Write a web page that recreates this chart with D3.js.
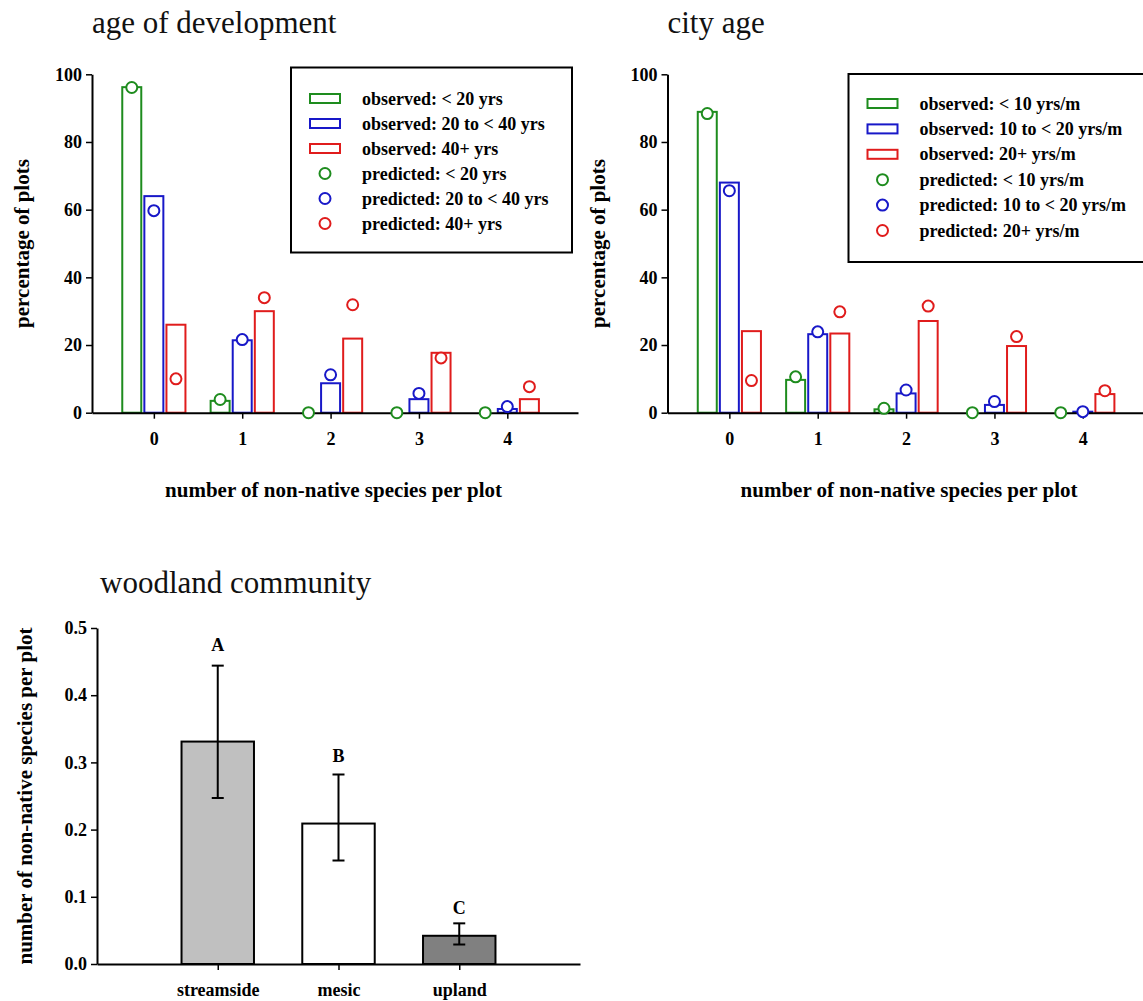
<!DOCTYPE html>
<html>
<head>
<meta charset="utf-8">
<script src="https://cdn.jsdelivr.net/npm/d3@7"></script>
<style>
  body { margin: 0; background: #fff; }
  svg { display: block; }
  text { font-family: "Liberation Serif", "Times New Roman", serif; }
  .axis text { font-size: 18px; font-weight: bold; fill: #000; }
  .axis .domain { stroke: #000; stroke-width: 2px; }
  .axis .tick line { stroke: #000; stroke-width: 1.5px; }
  .title { font-size: 31px; fill: #111; }
  .label { font-size: 21px; font-weight: bold; fill: #000; }
  .legend text { font-size: 18px; font-weight: bold; fill: #000; }
</style>
</head>
<body>
<div id="chart"></div>
<script>
// number of non-native species per plot
var counts = [0, 1, 2, 3, 4];
var pctTicks = [0, 20, 40, 60, 80, 100];
var groupColors = ["#1e8c1e", "#1818c8", "#e01c1c"];

// age of development (percent of plots)
var devGroups = ["< 20 yrs", "20 to < 40 yrs", "40+ yrs"];
var devObserved = [
  [96.2, 3.5, 0, 0, 0],
  [64.0, 21.4, 8.7, 4.0, 1.1],
  [26.0, 30.0, 21.9, 17.7, 4.0]
];
var devPredicted = [
  [96.1, 3.9, 0, 0, 0],
  [59.7, 21.6, 11.2, 5.7, 1.8],
  [10.0, 34.0, 31.9, 16.2, 7.7]
];

// city age (percent of plots)
var cityGroups = ["< 10 yrs/m", "10 to < 20 yrs/m", "20+ yrs/m"];
var cityObserved = [
  [88.9, 9.7, 1.0, 0, 0],
  [68.0, 23.2, 5.7, 2.3, 0.3],
  [24.1, 23.4, 27.1, 19.7, 5.5]
];
var cityPredicted = [
  [88.4, 10.6, 1.3, 0, 0],
  [65.6, 23.9, 6.7, 3.3, 0.3],
  [9.5, 29.8, 31.5, 22.5, 6.5]
];

// woodland community (mean number of non-native species per plot)
var communities = ["streamside", "mesic", "upland"];
var communityMeans = [0.331, 0.209, 0.042];
var communityLow = [0.247, 0.154, 0.029];
var communityHigh = [0.444, 0.282, 0.0605];
var communityLetters = ["A", "B", "C"];
var communityLetterY = [0.475, 0.309, 0.083];
var communityFills = ["#c0c0c0", "#ffffff", "#808080"];
var meanTicks = [0, 0.1, 0.2, 0.3, 0.4, 0.5];

var svg = d3.select("#chart").append("svg")
  .attr("width", 1143)
  .attr("height", 1001);

function distributionPlot(opts) {
  var x = d3.scaleLinear().domain([-0.7, 4.8])
    .range([opts.left, opts.left + 486]);
  var y = d3.scaleLinear().domain([0, 100])
    .range([412.7, 74.3]);
  var xAxis = d3.axisBottom(x)
    .tickValues(counts)
    .tickFormat(d3.format("d"))
    .tickSizeInner(6).tickSizeOuter(0).tickPadding(14);
  var yAxis = d3.axisLeft(y)
    .tickValues(pctTicks)
    .tickSizeInner(6).tickSizeOuter(0).tickPadding(4);
  var offset = 0.25, barW = x(0.215) - x(0);

  var g = svg.append("g");

  g.append("text")
    .attr("class", "title")
    .attr("x", opts.left)
    .attr("y", 33)
    .text(opts.title);

  // observed bars
  opts.observed.forEach(function(vals, gi) {
    g.selectAll(".bar" + gi)
      .data(vals)
      .enter().append("rect")
        .attr("class", "bar" + gi)
        .attr("x", function(d, i) { return x(counts[i] + (gi - 1) * offset) - barW / 2; })
        .attr("y", function(d) { return y(d); })
        .attr("width", barW)
        .attr("height", function(d) { return y(0) - y(d); })
        .attr("fill", "none")
        .attr("stroke", groupColors[gi])
        .attr("stroke-width", 2);
  });

  g.append("g")
    .attr("class", "axis")
    .attr("transform", "translate(0," + y(0) + ")")
    .call(xAxis);
  g.append("g")
    .attr("class", "axis")
    .attr("transform", "translate(" + x(-0.7) + ",0)")
    .call(yAxis);

  // predicted points
  opts.predicted.forEach(function(vals, gi) {
    g.selectAll(".pt" + gi)
      .data(vals)
      .enter().append("circle")
        .attr("class", "pt" + gi)
        .attr("cx", function(d, i) { return x(counts[i] + (gi - 1) * offset); })
        .attr("cy", function(d) { return y(d); })
        .attr("r", 5.5)
        .attr("fill", "#fff")
        .attr("stroke", groupColors[gi])
        .attr("stroke-width", 2);
  });

  // axis labels
  g.append("text")
    .attr("class", "label")
    .attr("x", x(2) + 3)
    .attr("y", 497)
    .style("text-anchor", "middle")
    .text("number of non-native species per plot");
  g.append("text")
    .attr("class", "label")
    .attr("transform", "translate(" + (opts.left - 63) + "," + ((y(0) + y(100)) / 2) + ") rotate(-90)")
    .style("text-anchor", "middle")
    .text("percentage of plots");

  // legend
  var lg = g.append("g").attr("class", "legend");
  lg.append("rect")
    .attr("x", opts.legend.x)
    .attr("y", opts.legend.y)
    .attr("width", opts.legend.w)
    .attr("height", opts.legend.h)
    .attr("fill", "#fff")
    .attr("stroke", "#000")
    .attr("stroke-width", 2);
  var rows = [];
  opts.groups.forEach(function(name, gi) { rows.push({kind: "observed", name: name, gi: gi}); });
  opts.groups.forEach(function(name, gi) { rows.push({kind: "predicted", name: name, gi: gi}); });
  rows.forEach(function(r, i) {
    var cy = opts.legend.y + opts.legend.first + i * opts.legend.step;
    var sx = opts.legend.x + 34;
    if (r.kind == "observed") {
      lg.append("rect")
        .attr("x", sx - 15).attr("y", cy - 4.5)
        .attr("width", 30).attr("height", 9)
        .attr("fill", "none")
        .attr("stroke", groupColors[r.gi])
        .attr("stroke-width", 2);
    } else {
      lg.append("circle")
        .attr("cx", sx).attr("cy", cy).attr("r", 5.5)
        .attr("fill", "none")
        .attr("stroke", groupColors[r.gi])
        .attr("stroke-width", 2);
    }
    lg.append("text")
      .attr("x", opts.legend.x + 71)
      .attr("y", cy + 6)
      .text(r.kind + ": " + r.name);
  });
}

distributionPlot({
  title: "age of development",
  left: 92,
  groups: devGroups,
  observed: devObserved,
  predicted: devPredicted,
  legend: {x: 291, y: 67.5, w: 281, h: 185, first: 31, step: 25}
});

distributionPlot({
  title: "city age",
  left: 667.5,
  groups: cityGroups,
  observed: cityObserved,
  predicted: cityPredicted,
  legend: {x: 848.5, y: 74, w: 310, h: 188, first: 29.5, step: 25.4}
});

// woodland community bar chart
(function() {
  var x = d3.scaleLinear().domain([0, 4]).range([97, 580]);
  var y = d3.scaleLinear().domain([0, 0.5]).range([964, 628]);
  var barW = x(0.6) - x(0);
  var g = svg.append("g");

  g.append("text")
    .attr("class", "title")
    .attr("x", 100)
    .attr("y", 593)
    .text("woodland community");

  var bars = g.selectAll(".cbar")
    .data(communityMeans)
    .enter().append("rect")
      .attr("class", "cbar")
      .attr("x", function(d, i) { return x(i + 1) - barW / 2; })
      .attr("y", function(d) { return y(d); })
      .attr("width", barW)
      .attr("height", function(d) { return y(0) - y(d); })
      .attr("fill", function(d, i) { return communityFills[i]; })
      .attr("stroke", "#000")
      .attr("stroke-width", 2);

  // error bars
  communityMeans.forEach(function(d, i) {
    var cx = x(i + 1);
    g.append("line")
      .attr("x1", cx).attr("x2", cx)
      .attr("y1", y(communityLow[i])).attr("y2", y(communityHigh[i]))
      .attr("stroke", "#000").attr("stroke-width", 2);
    [communityLow[i], communityHigh[i]].forEach(function(v) {
      g.append("line")
        .attr("x1", cx - 6).attr("x2", cx + 6)
        .attr("y1", y(v)).attr("y2", y(v))
        .attr("stroke", "#000").attr("stroke-width", 2);
    });
    g.append("text")
      .attr("class", "label")
      .style("font-size", "18px")
      .attr("x", cx)
      .attr("y", y(communityLetterY[i]) + 6)
      .style("text-anchor", "middle")
      .text(communityLetters[i]);
  });

  g.append("g")
    .attr("class", "axis")
    .attr("transform", "translate(0," + y(0) + ")")
    .call(d3.axisBottom(x)
      .tickValues([1, 2, 3])
      .tickFormat(function(d) { return communities[d - 1]; })
      .tickSizeInner(6).tickSizeOuter(0).tickPadding(13));
  g.append("g")
    .attr("class", "axis")
    .attr("transform", "translate(" + x(0) + ",0)")
    .call(d3.axisLeft(y)
      .tickValues(meanTicks)
      .tickFormat(d3.format(".1f"))
      .tickSizeInner(6).tickSizeOuter(0).tickPadding(4));

  g.append("text")
    .attr("class", "label")
    .attr("transform", "translate(32," + ((y(0) + y(0.5)) / 2) + ") rotate(-90)")
    .style("text-anchor", "middle")
    .text("number of non-native species per plot");
})();
</script>
</body>
</html>
